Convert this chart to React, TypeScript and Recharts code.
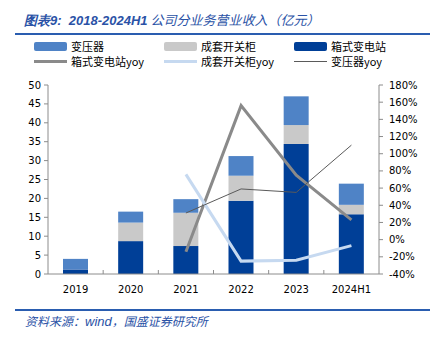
import { ComposedChart, Bar, Line, XAxis, YAxis } from "recharts";

const years = ["2019", "2020", "2021", "2022", "2023", "2024H1"];
// 亿元
const boxSub = [1.2, 8.7, 7.4, 19.4, 34.4, 15.8];
const switchgear = [0, 4.9, 8.8, 6.6, 5.0, 2.5];
const transformer = [2.8, 2.9, 3.6, 5.2, 7.6, 5.6];
// yoy, %
const boxSubYoy = [null, null, -14, 156, 75, 23];
const switchgearYoy = [null, null, 76, -25, -24, -7];
const transformerYoy = [null, null, 31, 59, 55, 110];

const leftTicks = [0, 5, 10, 15, 20, 25, 30, 35, 40, 45, 50];
const rightTicks = [-40, -20, 0, 20, 40, 60, 80, 100, 120, 140, 160, 180];

const data = years.map((year, i) => ({
  year,
  boxSub: boxSub[i],
  switchgear: switchgear[i],
  transformer: transformer[i],
  boxSubYoy: boxSubYoy[i],
  switchgearYoy: switchgearYoy[i],
  transformerYoy: transformerYoy[i],
}));

const C_DARK = "#003f97";
const C_GRAY = "#c9c9c9";
const C_LIGHT = "#4f83c6";
const C_YOY_BOX = "#8a8a8a";
const C_YOY_SW = "#c6d9f0";
const C_YOY_TR = "#5a5a5a";
const AXIS = "#8c8c8c";
const BLUE_TEXT = "#2a52a6";
const FONT = "'DejaVu Sans', Verdana, sans-serif";
const CJK = "'Noto Sans CJK SC', sans-serif";

function CategoryTick(props: any) {
  const { x, y, payload, index } = props;
  const half = payload?.offset ?? 27.6;
  return (
    <g>
      {index > 0 && (
        <line x1={x - half} y1={y} x2={x - half} y2={y - 4} stroke={AXIS} strokeWidth={1} />
      )}
      <text x={x} y={y + 19} textAnchor="middle" fontSize={10} fontFamily={FONT} fill="#000">
        {payload.value}
      </text>
    </g>
  );
}

function BoxSwatch({ color }: { color: string }) {
  return (
    <span
      style={{ display: "inline-block", width: 33, height: 9, background: color, borderRadius: 2, marginRight: 4 }}
    />
  );
}

function LineSwatch({ color, thick }: { color: string; thick: number }) {
  return (
    <span
      style={{ display: "inline-block", width: 33, height: thick, background: color, marginRight: 4, verticalAlign: "middle" }}
    />
  );
}

const legendItem: React.CSSProperties = {
  position: "absolute",
  display: "flex",
  alignItems: "center",
  fontFamily: CJK,
  fontSize: 11,
  color: "#000",
  whiteSpace: "nowrap",
  lineHeight: "14px",
};

export default function App() {
  return (
    <div style={{ position: "absolute", left: 0, top: 0, width: 432, height: 348, background: "#fff", overflow: "hidden" }}>
      <div
        style={{
          position: "absolute",
          left: 24,
          top: 10,
          fontStyle: "italic",
          color: BLUE_TEXT,
          whiteSpace: "nowrap",
          fontFamily: CJK,
          fontSize: 13,
          lineHeight: "20px",
        }}
      >
        <span style={{ fontFamily: "'Liberation Sans', Arial, sans-serif", fontWeight: "bold", fontSize: 13 }}>
          图表9:&nbsp; 2018-2024H1
        </span>{" "}
        公司分业务营业收入（亿元）
      </div>
      <div style={{ position: "absolute", left: 15, top: 33, width: 415, height: 2, background: "#2a5db0" }} />

      <div style={{ ...legendItem, left: 34, top: 39 }}>
        <BoxSwatch color={C_LIGHT} />变压器
      </div>
      <div style={{ ...legendItem, left: 164, top: 39 }}>
        <BoxSwatch color={C_GRAY} />成套开关柜
      </div>
      <div style={{ ...legendItem, left: 294, top: 39 }}>
        <BoxSwatch color={C_DARK} />箱式变电站
      </div>
      <div style={{ ...legendItem, left: 34, top: 54 }}>
        <LineSwatch color={C_YOY_BOX} thick={3} />箱式变电站yoy
      </div>
      <div style={{ ...legendItem, left: 164, top: 54 }}>
        <LineSwatch color={C_YOY_SW} thick={3} />成套开关柜yoy
      </div>
      <div style={{ ...legendItem, left: 294, top: 54 }}>
        <LineSwatch color={C_YOY_TR} thick={1} />变压器yoy
      </div>

      <div style={{ position: "absolute", left: 0, top: 0 }}>
        <ComposedChart width={432} height={304} data={data} margin={{ top: 85, right: 0, left: 0, bottom: 0 }}>
          <XAxis
            dataKey="year"
            xAxisId="x"
            height={30}
            axisLine={{ stroke: AXIS }}
            tickLine={false}
            tickSize={0}
            tickMargin={0}
            tick={<CategoryTick />}
            interval={0}
          />
          <YAxis
            yAxisId="left"
            width={48}
            domain={[0, 50]}
            ticks={leftTicks}
            interval={0}
            tickSize={4}
            tickMargin={3}
            axisLine={{ stroke: AXIS }}
            tickLine={{ stroke: AXIS }}
            tick={{ fontSize: 10, fontFamily: FONT, fill: "#000" }}
          />
          <YAxis
            yAxisId="right"
            orientation="right"
            width={53}
            domain={[-40, 180]}
            ticks={rightTicks}
            interval={0}
            tickSize={4}
            tickMargin={6}
            axisLine={{ stroke: AXIS }}
            tickLine={{ stroke: AXIS }}
            tickFormatter={(v) => `${v}%`}
            tick={{ fontSize: 10, fontFamily: FONT, fill: "#000", textAnchor: "start" }}
          />
          <Bar xAxisId="x" yAxisId="left" dataKey="boxSub" stackId="a" fill={C_DARK} barSize={25} isAnimationActive={false} />
          <Bar xAxisId="x" yAxisId="left" dataKey="switchgear" stackId="a" fill={C_GRAY} barSize={25} isAnimationActive={false} />
          <Bar xAxisId="x" yAxisId="left" dataKey="transformer" stackId="a" fill={C_LIGHT} barSize={25} isAnimationActive={false} />
          <Line
            xAxisId="x"
            yAxisId="right"
            dataKey="boxSubYoy"
            stroke={C_YOY_BOX}
            strokeWidth={3}
            dot={false}
            type="linear"
            isAnimationActive={false}
          />
          <Line
            xAxisId="x"
            yAxisId="right"
            dataKey="switchgearYoy"
            stroke={C_YOY_SW}
            strokeWidth={3}
            dot={false}
            type="linear"
            isAnimationActive={false}
          />
          <Line
            xAxisId="x"
            yAxisId="right"
            dataKey="transformerYoy"
            stroke={C_YOY_TR}
            strokeWidth={1}
            dot={false}
            type="linear"
            isAnimationActive={false}
          />
        </ComposedChart>
      </div>

      <div style={{ position: "absolute", left: 15, top: 309, width: 415, height: 2, background: "#2a5db0" }} />
      <div
        style={{
          position: "absolute",
          left: 25,
          top: 312,
          fontStyle: "italic",
          color: BLUE_TEXT,
          fontFamily: CJK,
          fontSize: 12,
          lineHeight: "18px",
          whiteSpace: "nowrap",
        }}
      >
        资料来源：<span style={{ fontFamily: "'Liberation Sans', Arial, sans-serif", fontSize: 13 }}>wind</span>，国盛证券研究所
      </div>
    </div>
  );
}
